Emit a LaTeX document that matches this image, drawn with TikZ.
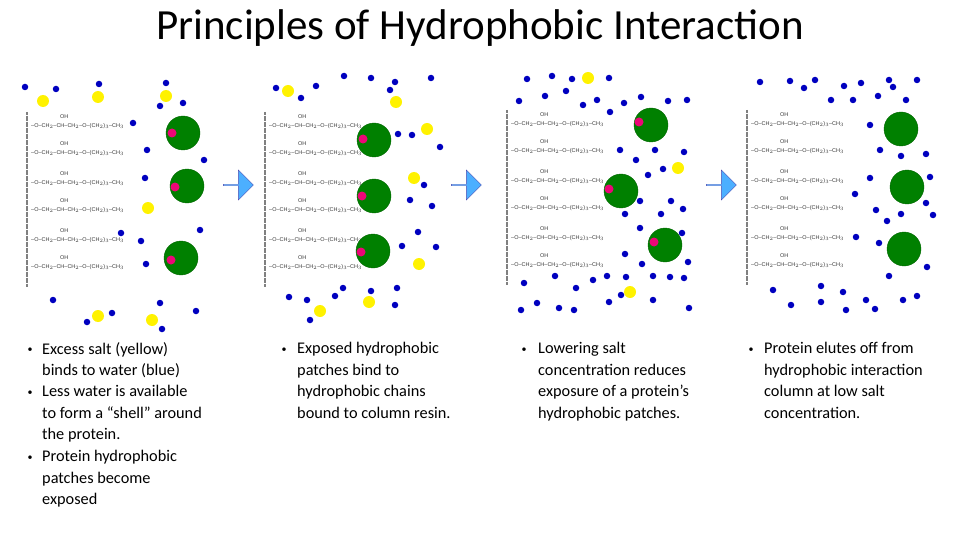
\documentclass[tikz,border=0pt]{standalone}
\usepackage{fontspec}
\setmainfont{Carlito}
\newfontfamily\chemf{Liberation Sans}
\usetikzlibrary{shapes.arrows}
\begin{document}
\begin{tikzpicture}[x=1pt,y=-1pt,
  bl/.style={circle,fill=blue!75!black,inner sep=0,minimum size=6.5pt},
  ye/.style={circle,fill=yellow,inner sep=0,minimum size=12pt},
  gr/.style={circle,fill=green!50!black,draw=black!60!green,inner sep=0,minimum size=34pt},
  pk/.style={circle,fill=magenta!80!red,inner sep=0,minimum size=9pt},
  arr/.style={single arrow,fill=blue!45!cyan!70!white,draw=blue!40!gray,inner sep=0,minimum height=30pt,minimum width=30pt,single arrow head extend=4pt,single arrow head indent=0pt},
  txt/.style={anchor=north west,align=left,font=\fontsize{16.3}{21.6}\selectfont,inner sep=0},
  bu/.style={font=\fontsize{10}{10}\selectfont,inner sep=0},
  chain/.style={anchor=west,inner sep=0,font=\chemf\fontsize{5.5}{6}\selectfont,text=black!80}]
\useasboundingbox (0,0) rectangle (960,540);
\node (title) at (480,28) {\fontsize{43}{48}\selectfont Principles of Hydrophobic Interaction};
\newcommand\resin[2]{%
  \draw[gray,line width=2.6pt,dash pattern=on 0.6pt off 0.6pt] (#1,#2) -- (#1,#2+175);
  \foreach \k/\dy in {0/14,1/41,2/71,3/98,4/128,5/155}{
    \node[chain] (c#1-\k) at (#1+4,#2+\dy) {–O–CH$_2$–CH–CH$_2$–O–(CH$_2$)$_3$–CH$_3$};
    \node[chain] (o#1-\k) at (#1+33,#2+\dy-9) {OH};
  }}
\resin{27}{112}
\resin{265}{112}
\resin{507}{110}
\resin{747}{110}
% panel 1
\foreach \x/\y [count=\i] in {43/101,98/97,166/96,148/208,98/316,152/320} \node[ye] (ya\i) at (\x,\y) {};
\foreach \x/\y [count=\i] in {25/87,56/89,99/84,160/106,183/103,133/123,147/150,204/160,145/178,141/241,146/264,121/233,53/300,87/322,112/313,160/303,196/311,162/329,200/230,166/83}
  \node[bl] (ba\i) at (\x,\y) {};
\foreach \x/\y/\px/\py [count=\i] in {183/133/172/133,187/186/175/187,181/258/171/260}
  {\node[gr] (ga\i) at (\x,\y) {}; \node[pk] (pa\i) at (\px,\py) {};}
% panel 2
\foreach \x/\y [count=\i] in {288/91,396/102,427/129,414/178,419/264,369/302,320/311} \node[ye] (yb\i) at (\x,\y) {};
\foreach \x/\y [count=\i] in {276/88,301/98,344/76,371/78,395/82,431/78,316/86,390/90,398/134,412/135,440/147,424/185,410/200,432/206,402/246,436/247,418/232,397/288,395/305,343/288,289/297,307/300,371/291,310/320,335/296}
  \node[bl] (bb\i) at (\x,\y) {};
\foreach \x/\y/\px/\py [count=\i] in {374/140/363/139,374/196/362/196,373/251/361/252}
  {\node[gr] (gb\i) at (\x,\y) {}; \node[pk] (pb\i) at (\px,\py) {};}
% panel 3
\foreach \x/\y [count=\i] in {588/78,678/168,630/292} \node[ye] (yc\i) at (\x,\y) {};
\foreach \x/\y [count=\i] in {527/79,552/76,572/79,609/78,519/101,545/96,566/91,583/105,597/100,624/103,641/97,668/101,687/100,610/112,620/150,636/160,655/150,663/169,684/152,648/175,640/201,625/214,640/228,671/201,683/209,661/214,682/233,625/254,642/264,670/277,684/278,688/262,607/276,593/280,576/288,555/276,524/283,521/310,537/303,559/308,574/310,609/302,621/295,653/300,689/308,653/276,626/277}
  \node[bl] (bc\i) at (\x,\y) {};
\foreach \x/\y/\px/\py [count=\i] in {651/125/639/122,621/191/609/189,665/245/654/242}
  {\node[gr] (gc\i) at (\x,\y) {}; \node[pk] (pc\i) at (\px,\py) {};}
% panel 4
\foreach \x/\y [count=\i] in {760/82,790/81,815/80,844/86,861/83,889/80,917/80,804/88,831/100,853/100,878/96,906/100,893/87,870/125,880/150,901/156,926/154,870/178,855/194,876/210,887/221,926/203,901/214,879/243,856/237,889/276,927/267,917/296,903/300,866/300,843/292,821/286,821/302,791/305,773/290,846/310,875/309,930/177,933/215}
  \node[bl] (bd\i) at (\x,\y) {};
\foreach \x/\y [count=\i] in {901/129,907/187,904/249} \node[gr] (gd\i) at (\x,\y) {};
% arrows
\node[arr] (a1) at (238,185) {};
\node[arr] (a2) at (466,185) {};
\node[arr] (a3) at (721,185) {};
% texts
\node[bu] (b1) at (30,350) {•}; \node[txt] (t1) at (42,342) {Excess salt (yellow)\\binds to water (blue)};
\node[bu] (b2) at (30,393) {•}; \node[txt] (t2) at (42,385) {Less water is available\\to form a “shell” around\\the protein.};
\node[bu] (b3) at (30,458) {•}; \node[txt] (t3) at (42,450) {Protein hydrophobic\\patches become\\exposed};
\node[bu] (b4) at (284,350) {•}; \node[txt] (t4) at (297,342) {Exposed hydrophobic\\patches bind to\\hydrophobic chains\\bound to column resin.};
\node[bu] (b5) at (524,350) {•}; \node[txt] (t5) at (538,342) {Lowering salt\\concentration reduces\\exposure of a protein’s\\hydrophobic patches.};
\node[bu] (b6) at (751,350) {•}; \node[txt] (t6) at (764,342) {Protein elutes off from\\hydrophobic interaction\\column at low salt\\concentration.};
\end{tikzpicture}
\end{document}
